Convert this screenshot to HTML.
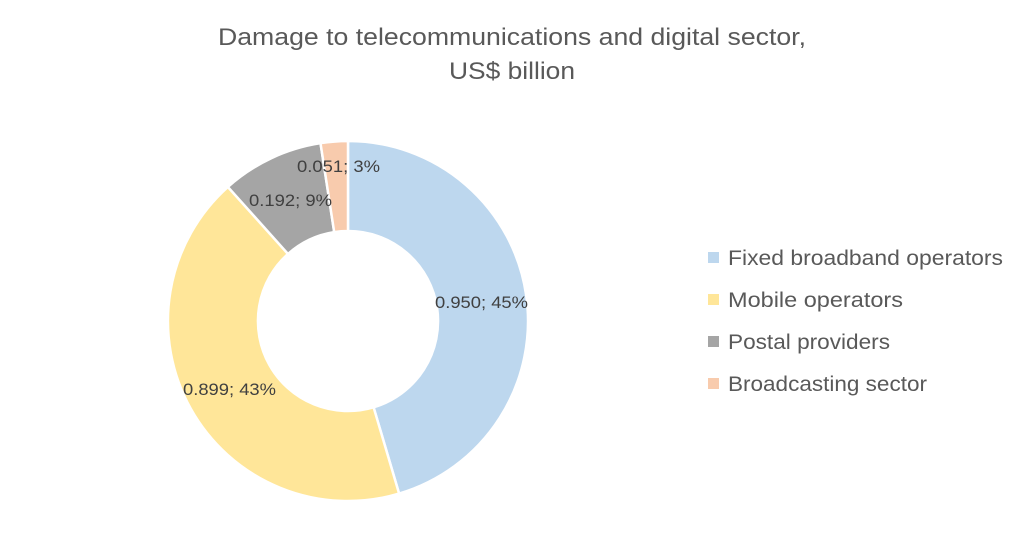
<!DOCTYPE html>
<html><head><meta charset="utf-8"><style>
html,body{margin:0;padding:0;background:#fff;}
</style></head><body>
<svg width="1024" height="554" viewBox="0 0 1024 554" xmlns="http://www.w3.org/2000/svg" font-family="Liberation Sans, sans-serif">
<rect width="1024" height="554" fill="#fff"/>
<text x="512" y="45" text-anchor="middle" font-size="24" fill="#595959" textLength="588" lengthAdjust="spacingAndGlyphs">Damage to telecommunications and digital sector,</text>
<text x="512" y="79" text-anchor="middle" font-size="24" fill="#595959" textLength="126" lengthAdjust="spacingAndGlyphs">US$ billion</text>
<g stroke="#fff" stroke-width="2.5" stroke-linejoin="round">
<path d="M348,141 A180,180 0 0 1 399.1,493.6 L373.6,407.3 A90,90 0 0 0 348,231 Z" fill="#BDD7EE"/>
<path d="M399.1,493.6 A180,180 0 0 1 227.9,186.9 L288,253.9 A90,90 0 0 0 373.6,407.3 Z" fill="#FFE699"/>
<path d="M227.9,186.9 A180,180 0 0 1 320.5,143.2 L334.2,232.1 A90,90 0 0 0 288,253.9 Z" fill="#A5A5A5"/>
<path d="M320.5,143.2 A180,180 0 0 1 348,141 L348,231 A90,90 0 0 0 334.2,232.1 Z" fill="#F8CBAD"/>
</g>
<g font-size="17" fill="#404040" text-anchor="middle" lengthAdjust="spacingAndGlyphs">
<text x="481.5" y="308" textLength="93" lengthAdjust="spacingAndGlyphs">0.950; 45%</text>
<text x="229.5" y="395" textLength="93" lengthAdjust="spacingAndGlyphs">0.899; 43%</text>
<text x="290.5" y="206" textLength="83" lengthAdjust="spacingAndGlyphs">0.192; 9%</text>
<text x="338.5" y="172" textLength="83" lengthAdjust="spacingAndGlyphs">0.051; 3%</text>
</g>
<g font-size="21" fill="#595959">
<rect x="708" y="252" width="11" height="11" fill="#BDD7EE"/><text x="728" y="265" textLength="275" lengthAdjust="spacingAndGlyphs">Fixed broadband operators</text>
<rect x="708" y="294" width="11" height="11" fill="#FFE699"/><text x="728" y="307" textLength="175" lengthAdjust="spacingAndGlyphs">Mobile operators</text>
<rect x="708" y="336" width="11" height="11" fill="#A5A5A5"/><text x="728" y="349" textLength="162" lengthAdjust="spacingAndGlyphs">Postal providers</text>
<rect x="708" y="378" width="11" height="11" fill="#F8CBAD"/><text x="728" y="391" textLength="199" lengthAdjust="spacingAndGlyphs">Broadcasting sector</text>
</g>
</svg>
</body></html>
